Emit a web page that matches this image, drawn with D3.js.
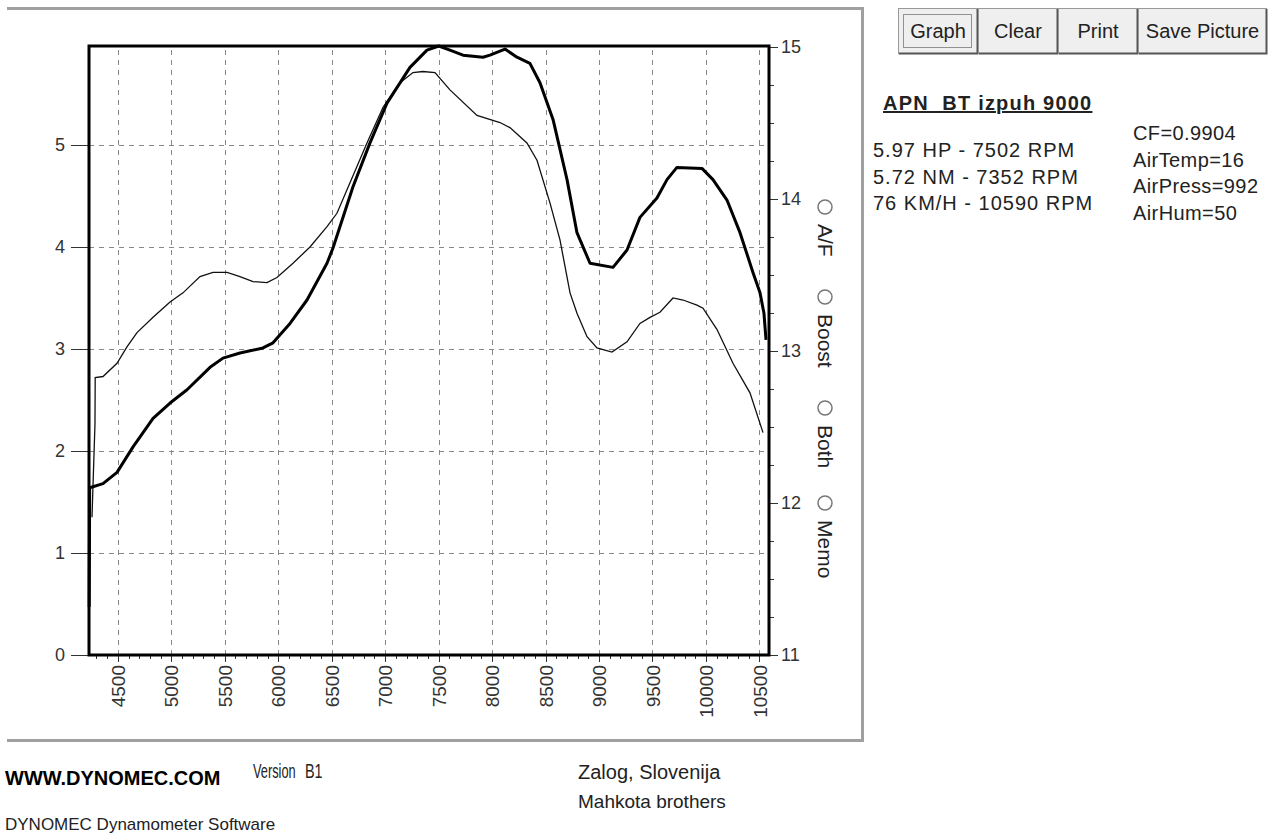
<!DOCTYPE html>
<html>
<head>
    <title>Dynomec graph</title>
    <meta charset="utf-8">
    <style type="text/css">
        body { margin: 0; background: #fff; }
        svg text { font-family: "Liberation Sans", Arial, sans-serif; fill: #222; }
        .axis path { display: none; }
        .axis line { stroke: #333; shape-rendering: crispEdges; }
        .axis text { font-size: 18px; fill: #333; font-family: "Liberation Sans", Arial, sans-serif; }
        .grid line { stroke: #888; stroke-dasharray: 5,5; shape-rendering: crispEdges; }
        .grid path { display: none; }
        .info { font-size: 20px; }
        .btn text { font-size: 20px; }
    </style>
</head>
<body>
<svg width="1279" height="835"></svg>

<script src="https://cdnjs.cloudflare.com/ajax/libs/d3/7.8.5/d3.min.js"></script>
<script type="text/javascript">
    /*=========DATA=========*/
    // power curve (thick) : rpm / HP
    var hpRpm = [4232, 4236, 4361, 4492, 4642, 4829, 4988, 5147, 5362, 5483, 5642, 5857, 5951, 6110, 6269, 6456, 6512,
        6699, 6858, 7017, 7232, 7391, 7502, 7606, 7728, 7915, 7980, 8121, 8233, 8354, 8448, 8570, 8701, 8794, 8916,
        9131, 9262, 9383, 9542, 9636, 9729, 9963, 10066, 10197, 10319, 10440, 10506, 10543, 10562];
    var hpVal = [0.47, 1.64, 1.68, 1.79, 2.04, 2.32, 2.47, 2.60, 2.82, 2.91, 2.96, 3.01, 3.06, 3.25, 3.48, 3.84, 3.99,
        4.59, 5.02, 5.41, 5.76, 5.93, 5.97, 5.93, 5.88, 5.86, 5.88, 5.94, 5.86, 5.80, 5.61, 5.25, 4.66, 4.14, 3.84,
        3.80, 3.97, 4.29, 4.48, 4.66, 4.78, 4.77, 4.66, 4.46, 4.14, 3.75, 3.55, 3.35, 3.09];
    // torque curve (thin) : rpm / NM
    var tqRpm = [4258, 4286, 4288, 4361, 4492, 4585, 4679, 4829, 4988, 5109, 5268, 5390, 5521, 5642, 5764, 5895, 5988,
        6138, 6297, 6456, 6549, 6671, 6830, 6980, 7139, 7260, 7352, 7466, 7606, 7859, 8074, 8167, 8326, 8420, 8542,
        8635, 8729, 8794, 8888, 8981, 9121, 9262, 9383, 9477, 9570, 9692, 9786, 9916, 9973, 10104, 10253, 10412, 10534];
    var tqVal = [1.35, 2.27, 2.72, 2.73, 2.86, 3.02, 3.16, 3.31, 3.46, 3.55, 3.71, 3.75, 3.75, 3.71, 3.66, 3.65, 3.70,
        3.84, 4.00, 4.20, 4.33, 4.63, 5.02, 5.37, 5.61, 5.71, 5.72, 5.71, 5.54, 5.29, 5.22, 5.17, 5.02, 4.85, 4.43,
        4.07, 3.55, 3.35, 3.12, 3.01, 2.97, 3.07, 3.25, 3.31, 3.36, 3.50, 3.48, 3.43, 3.40, 3.19, 2.86, 2.57, 2.18];

    var rpmTicks = [4500, 5000, 5500, 6000, 6500, 7000, 7500, 8000, 8500, 9000, 9500, 10000, 10500];
    var leftTicks = [0, 1, 2, 3, 4, 5];
    var afTicks = [11, 12, 13, 14, 15];
    var radioLabels = ['A/F', 'Boost', 'Both', 'Memo'];
    var buttonLabels = ['Graph', 'Clear', 'Print', 'Save Picture'];
    var runTitle = 'APN  BT izpuh 9000';
    var peakLines = ['5.97 HP - 7502 RPM', '5.72 NM - 7352 RPM', '76 KM/H - 10590 RPM'];
    var condLines = ['CF=0.9904', 'AirTemp=16', 'AirPress=992', 'AirHum=50'];

    /*=====SIZE======*/
    var plot = { left: 89, right: 769, top: 46, bottom: 655 };

    var svg = d3.select('svg');
    svg.append('rect').attr('width', 1279).attr('height', 835).attr('fill', '#fff');

    // outer panel frame
    svg.append('path')
        .attr('d', 'M7,8.5 H862.5 V740.5 H7')
        .attr('fill', 'none').attr('stroke', '#a0a0a0').attr('stroke-width', 3);

    // scales
    var x = d3.scaleLinear().domain([4230, 10590]).range([plot.left, plot.right]);
    var y = d3.scaleLinear().domain([0, 5.97]).range([plot.bottom, plot.top]);
    var yAF = d3.scaleLinear().domain([11, 15]).range([plot.bottom, plot.top + 1]);

    // grid
    svg.append('g').attr('class', 'grid')
        .attr('transform', 'translate(0,' + plot.bottom + ')')
        .call(d3.axisBottom(x).tickValues(rpmTicks).tickSize(-(plot.bottom - plot.top)).tickFormat(''));
    svg.append('g').attr('class', 'grid')
        .attr('transform', 'translate(' + plot.left + ',0)')
        .call(d3.axisLeft(y).tickValues(leftTicks.slice(1)).tickSize(-(plot.right - plot.left)).tickFormat(''));

    // x axis : minor + major ticks, rotated labels
    var minor = d3.range(4300, 10600, 100).filter(d => d % 500 != 0);
    svg.append('g').attr('class', 'axis')
        .attr('transform', 'translate(0,' + plot.bottom + ')')
        .call(d3.axisBottom(x).tickValues(minor).tickSize(4).tickFormat(''));
    var xAxis = svg.append('g').attr('class', 'axis')
        .attr('transform', 'translate(0,' + plot.bottom + ')')
        .call(d3.axisBottom(x).tickValues(rpmTicks).tickSize(7).tickFormat(d3.format('d')));
    xAxis.selectAll('text')
        .style('font-size', '19px')
        .attr('transform', 'rotate(-90)')
        .attr('x', -10).attr('y', 0).attr('dy', '0.35em')
        .style('text-anchor', 'end');

    // left axis
    svg.append('g').attr('class', 'axis')
        .attr('transform', 'translate(' + plot.left + ',0)')
        .call(d3.axisLeft(y).tickValues(leftTicks).tickSize(18).tickPadding(6).tickFormat(d3.format('d')));

    // right A/F axis
    svg.append('g').attr('class', 'axis')
        .attr('transform', 'translate(' + plot.right + ',0)')
        .call(d3.axisRight(yAF).tickValues(d3.range(11.25, 15, 0.25).filter(d => d % 1 != 0)).tickSize(5).tickFormat(''));
    svg.append('g').attr('class', 'axis')
        .attr('transform', 'translate(' + plot.right + ',0)')
        .call(d3.axisRight(yAF).tickValues(afTicks).tickSize(9).tickPadding(3).tickFormat(d3.format('d')));

    // plot frame
    svg.append('path')
        .attr('d', 'M' + plot.left + ',' + plot.bottom + ' V' + plot.top + ' H' + plot.right + ' V' + plot.bottom + ' Z')
        .attr('fill', 'none').attr('stroke', '#000').attr('stroke-width', 3);

    // curves
    var line = d3.line().x(d => x(d[0])).y(d => y(d[1]));
    svg.append('path')
        .attr('d', line(d3.zip(tqRpm, tqVal)))
        .attr('fill', 'none').attr('stroke', '#111').attr('stroke-width', 1.3);
    svg.append('path')
        .attr('d', line(d3.zip(hpRpm, hpVal)))
        .attr('fill', 'none').attr('stroke', '#000').attr('stroke-width', 3)
        .attr('stroke-linejoin', 'round');

    // radio options
    var radioY = [207, 297, 408, 503];
    var radio = svg.append('g');
    radioLabels.forEach(function (t, i) {
        radio.append('circle').attr('cx', 825).attr('cy', radioY[i]).attr('r', 7)
            .attr('fill', '#fff').attr('stroke', '#777').attr('stroke-width', 1.5);
        radio.append('text')
            .attr('transform', 'translate(818,' + (radioY[i] + 17) + ') rotate(90)')
            .style('font-size', '21px').text(t);
    });

    // buttons
    var btnX = [898, 978, 1058, 1138, 1267];
    buttonLabels.forEach(function (t, i) {
        var g = svg.append('g').attr('class', 'btn');
        g.append('rect').attr('x', btnX[i] + 0.5).attr('y', 8.5)
            .attr('width', btnX[i + 1] - btnX[i] - 1).attr('height', 45)
            .attr('fill', '#efefef').attr('stroke', '#999').attr('stroke-width', 1);
        g.append('path')
            .attr('d', 'M' + (btnX[i] + 1) + ',53.5 H' + (btnX[i + 1] - 0.5) + ' V9')
            .attr('fill', 'none').attr('stroke', '#555').attr('stroke-width', 2);
        g.append('text').attr('x', (btnX[i] + btnX[i + 1]) / 2).attr('y', 38)
            .attr('text-anchor', 'middle').text(t);
        if (i == 0) {
            g.append('rect').attr('x', btnX[i] + 5.5).attr('y', 14.5).attr('width', 68).attr('height', 33)
                .attr('fill', 'none').attr('stroke', '#333').attr('stroke-dasharray', '1,1');
        }
    });

    // run info
    svg.append('text').attr('x', 883).attr('y', 110)
        .style('font-size', '20px').style('font-weight', 'bold').style('letter-spacing', '1.2px')
        .style('text-decoration', 'underline').attr('xml:space', 'preserve').text(runTitle);
    peakLines.forEach(function (t, i) {
        svg.append('text').attr('class', 'info').attr('x', 873).attr('y', 157 + i * 26.5)
            .style('letter-spacing', '1px').text(t);
    });
    condLines.forEach(function (t, i) {
        svg.append('text').attr('class', 'info').attr('x', 1133).attr('y', 140 + i * 26.5)
            .style('letter-spacing', '0.4px').text(t);
    });

    // footer
    svg.append('text').attr('x', 5).attr('y', 785).style('font-size', '20px').style('font-weight', 'bold')
        .style('fill', '#000').text('WWW.DYNOMEC.COM');
    svg.append('text').attr('transform', 'translate(253,778) scale(0.64,1)').style('font-size', '20px')
        .text('Version');
    svg.append('text').attr('transform', 'translate(305,778) scale(0.72,1)').style('font-size', '20px')
        .text('B1');
    svg.append('text').attr('x', 578).attr('y', 779).style('font-size', '20px').text('Zalog, Slovenija');
    svg.append('text').attr('x', 578).attr('y', 808).style('font-size', '19px').text('Mahkota brothers');
    svg.append('text').attr('x', 5).attr('y', 830).style('font-size', '17px').text('DYNOMEC Dynamometer Software');
</script>
</body>
</html>
